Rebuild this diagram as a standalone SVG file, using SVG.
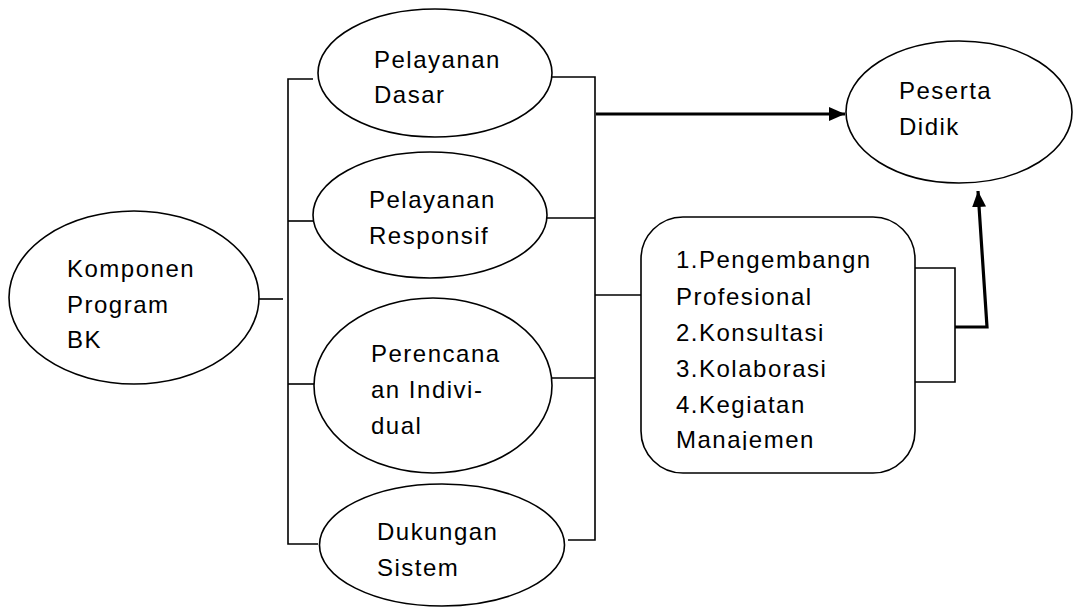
<svg xmlns="http://www.w3.org/2000/svg" width="1074" height="607" viewBox="0 0 1074 607">
<style>
.n{fill:#fff;stroke:#000;stroke-width:1.6}
.t{font-family:"Liberation Sans",Arial,sans-serif;font-size:24px;letter-spacing:1.5px;fill:#000}
.c{fill:none;stroke:#000;stroke-width:1.6}
.a{fill:none;stroke:#000;stroke-width:3.2}
</style>
<defs>
<marker id="ah" markerUnits="userSpaceOnUse" markerWidth="16" markerHeight="14" refX="16" refY="7" orient="auto">
<path d="M0,0 L16,7 L0,14 z" fill="#000"/>
</marker>
<clipPath id="boxclip"><rect x="640" y="216" width="280" height="234"/></clipPath>
</defs>
<rect width="1074" height="607" fill="#fff"/>
<g id="connectors">
<line class="c" x1="259" y1="299" x2="283" y2="299"/>
<polyline class="c" points="313,79 288,79 288,544 318,544"/>
<line class="c" x1="288" y1="221" x2="313" y2="221"/>
<line class="c" x1="288" y1="384" x2="314" y2="384"/>
<polyline class="c" points="547,77 595,77 595,540 568,540"/>
<line class="c" x1="546" y1="218" x2="595" y2="218"/>
<line class="c" x1="552" y1="378" x2="595" y2="378"/>
<line class="c" x1="595" y1="295" x2="641" y2="295"/>
<line class="a" x1="596" y1="114" x2="845" y2="114" marker-end="url(#ah)"/>
<polyline class="c" points="915,268 955,268 955,382 915,382"/>
<polyline class="a" points="955,327 987,327 978,191" marker-end="url(#ah)"/>
</g>
<g id="komponen">
<ellipse class="n" cx="134" cy="297.5" rx="125" ry="86.5"/>
<text class="t" x="67" y="277" letter-spacing="2.2">Komponen</text>
<text class="t" x="67" y="313">Program</text>
<text class="t" x="67" y="348">BK</text>
</g>
<g id="pelayanan-dasar">
<ellipse class="n" cx="435" cy="73" rx="117" ry="64"/>
<text class="t" x="374" y="68">Pelayanan</text>
<text class="t" x="374" y="103">Dasar</text>
</g>
<g id="pelayanan-responsif">
<ellipse class="n" cx="430" cy="215" rx="117" ry="63"/>
<text class="t" x="369" y="208">Pelayanan</text>
<text class="t" x="369" y="244">Responsif</text>
</g>
<g id="perencanaan">
<ellipse class="n" cx="433" cy="385.5" rx="119" ry="87.5"/>
<text class="t" x="371" y="362">Perencana</text>
<text class="t" x="371" y="398">an Indivi-</text>
<text class="t" x="371" y="434">dual</text>
</g>
<g id="dukungan">
<ellipse class="n" cx="442" cy="545" rx="122.5" ry="61"/>
<text class="t" x="377" y="540">Dukungan</text>
<text class="t" x="377" y="576">Sistem</text>
</g>
<g id="peserta">
<ellipse class="n" cx="959" cy="112" rx="113" ry="71"/>
<text class="t" x="899" y="99">Peserta</text>
<text class="t" x="899" y="135">Didik</text>
</g>
<g id="kegiatan">
<rect class="n" x="641" y="217" width="274" height="256" rx="42" ry="42"/>
<g clip-path="url(#boxclip)">
<text class="t" x="676" y="268">1.Pengembangn</text>
<text class="t" x="676" y="305">Profesional</text>
<text class="t" x="676" y="341">2.Konsultasi</text>
<text class="t" x="676" y="377">3.Kolaborasi</text>
<text class="t" x="676" y="413">4.Kegiatan</text>
<text class="t" x="676" y="448">Manajemen</text>
</g>
</g>
</svg>
